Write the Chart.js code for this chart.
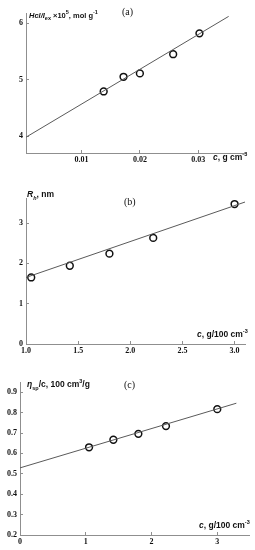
<!DOCTYPE html>
<html lang="en">
<head>
<meta charset="UTF-8">
<title>Three panels</title>
<script src="https://cdn.jsdelivr.net/npm/chart.js"></script>
<style>
  body { margin: 0; width: 255px; height: 550px; background: #fff; position: relative; overflow: hidden; }
  canvas { position: absolute; left: 0; }
  .lbl { position: absolute; font-family: "Liberation Sans", Arial, sans-serif; font-weight: bold; font-size: 8.5px; color: #111; white-space: nowrap; line-height: 1; }
  .lbl sub, .lbl sup { font-size: 5.5px; }
  .pan { position: absolute; font-family: "Liberation Serif", serif; font-size: 10px; color: #111; line-height: 1; }
</style>
</head>
<body>
<canvas id="chA" width="255" height="172" style="top:0px"></canvas>
<canvas id="chB" width="255" height="182" style="top:180px"></canvas>
<canvas id="chC" width="255" height="185" style="top:365px"></canvas>

<div class="pan" style="left:122px;top:7px">(a)</div>
<div class="lbl" style="left:29px;top:10px;font-size:7.5px"><i>Hcl/I</i><sub>ex</sub> ×10<sup>5</sup>, mol g<sup>-1</sup></div>
<div class="lbl" style="left:213px;top:152px"><i>c</i>, g cm<sup>-3</sup></div>

<div class="pan" style="left:124px;top:197px">(b)</div>
<div class="lbl" style="left:27px;top:190px"><i>R<sub>h</sub></i>, nm</div>
<div class="lbl" style="left:197px;top:329px"><i>c</i>, g/100 cm<sup>-3</sup></div>

<div class="pan" style="left:124px;top:380px">(c)</div>
<div class="lbl" style="left:27px;top:379px"><i>η</i><sub>sp</sub>/c, 100 cm<sup>3</sup>/g</div>
<div class="lbl" style="left:199px;top:520px"><i>c</i>, g/100 cm<sup>-3</sup></div>

<script>
// panel (a)
const concA = [0.0138, 0.0172, 0.0200, 0.0257, 0.0302];
const valA = [4.79, 5.05, 5.11, 5.45, 5.82];
const fitXA = [0.0005, 0.0352];
const fitYA = [3.98, 6.12];
const xTicksA = [0.01, 0.02, 0.03];
const xLabelsA = ['0.01', '0.02', '0.03'];
const yTicksA = [4, 5, 6];
const yLabelsA = ['4', '5', '6'];

// panel (b)
const concB = [1.05, 1.42, 1.80, 2.22, 3.00];
const valB = [1.65, 1.94, 2.24, 2.63, 3.47];
const fitXB = [1.0, 3.1];
const fitYB = [1.65, 3.52];
const xTicksB = [1.0, 1.5, 2.0, 2.5, 3.0];
const xLabelsB = ['1.0', '1.5', '2.0', '2.5', '3.0'];
const yTicksB = [0, 1, 2, 3];
const yLabelsB = ['0', '1', '2', '3'];

// panel (c)
const concC = [1.05, 1.42, 1.80, 2.22, 3.00];
const valC = [0.630, 0.667, 0.696, 0.734, 0.817];
const fitXC = [0, 3.29];
const fitYC = [0.529, 0.846];
const xTicksC = [0, 1, 2, 3];
const xLabelsC = ['0', '1', '2', '3'];
const yTicksC = [0.2, 0.3, 0.4, 0.5, 0.6, 0.7, 0.8, 0.9];
const yLabelsC = ['0.2', '0.3', '0.4', '0.5', '0.6', '0.7', '0.8', '0.9'];

const axisCol = '#8f8f8f';
const tickFont = { family: '"Liberation Serif", serif', weight: 'bold', size: 8 };

function panel(id, p) {
  const pts = p.xs.map((x, i) => ({ x: x, y: p.ys[i] }));
  const fit = p.fx.map((x, i) => ({ x: x, y: p.fy[i] }));
  new Chart(document.getElementById(id), {
    type: 'scatter',
    data: {
      datasets: [
        { data: fit, showLine: true, borderColor: '#5a5a5a', borderWidth: 1, pointRadius: 0 },
        { data: pts, pointRadius: 3.4, pointBorderWidth: 1.5, pointBorderColor: '#111', pointBackgroundColor: '#fff' }
      ]
    },
    options: {
      responsive: false,
      animation: false,
      layout: { padding: { top: p.top, right: p.right, left: 0, bottom: 0 } },
      plugins: { legend: { display: false }, tooltip: { enabled: false } },
      scales: {
        x: {
          type: 'linear', min: p.xmin, max: p.xmax,
          afterBuildTicks: s => { s.ticks = p.xt.map(v => ({ value: v })); },
          afterFit: s => { s.height = p.xh; },
          // negative length: tick marks point into the plot
          grid: { drawOnChartArea: false, tickLength: -3, color: axisCol },
          border: { color: axisCol, width: 1 },
          ticks: { font: tickFont, color: '#111', padding: 5, maxRotation: 0, callback: (v, i) => p.xl[i] }
        },
        y: {
          type: 'linear', min: p.ymin, max: p.ymax,
          afterBuildTicks: s => { s.ticks = p.yt.map(v => ({ value: v })); },
          afterFit: s => { s.width = p.left; },
          grid: { drawOnChartArea: false, tickLength: -3, color: axisCol },
          border: { color: axisCol, width: 1 },
          ticks: { font: tickFont, color: '#111', padding: 6, callback: (v, i) => p.yl[i] }
        }
      }
    }
  });
}

panel('chA', { xs: concA, ys: valA, fx: fitXA, fy: fitYA, xt: xTicksA, xl: xLabelsA, yt: yTicksA, yl: yLabelsA,
  xmin: 0.0005, xmax: 0.038, ymin: 3.7, ymax: 6.18, top: 13, right: 10, left: 26, xh: 19 });
panel('chB', { xs: concB, ys: valB, fx: fitXB, fy: fitYB, xt: xTicksB, xl: xLabelsB, yt: yTicksB, yl: yLabelsB,
  xmin: 1.0, xmax: 3.1, ymin: 0, ymax: 3.62, top: 18, right: 10, left: 26, xh: 18 });
panel('chC', { xs: concC, ys: valC, fx: fitXC, fy: fitYC, xt: xTicksC, xl: xLabelsC, yt: yTicksC, yl: yLabelsC,
  xmin: 0, xmax: 3.49, ymin: 0.2, ymax: 0.95, top: 17, right: 5, left: 20, xh: 15 });
</script>
</body>
</html>
